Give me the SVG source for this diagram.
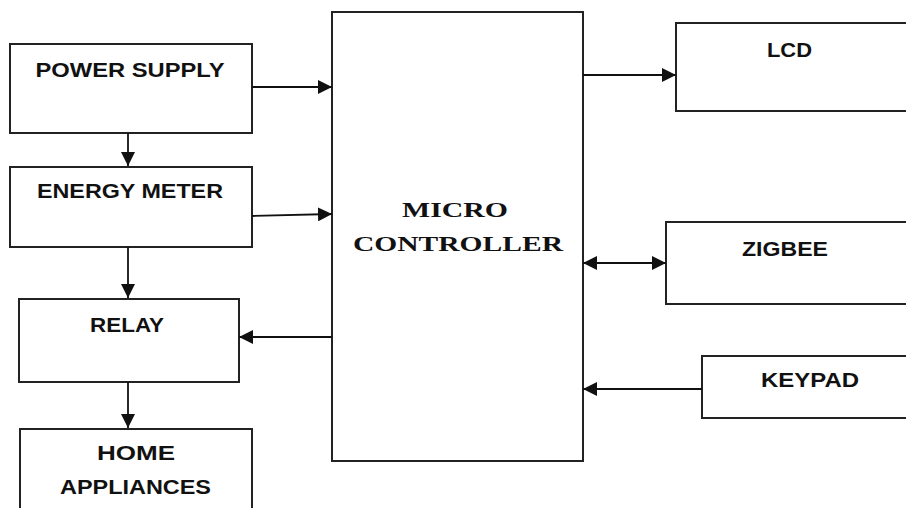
<svg xmlns="http://www.w3.org/2000/svg" width="906" height="508" viewBox="0 0 906 508">
<defs>
<style>
.box{fill:#fff;stroke:#222;stroke-width:2}
.lbl{font-family:"Liberation Sans",Arial,sans-serif;font-weight:bold;font-size:20px;fill:#111;text-anchor:middle}
.mc{font-family:"Liberation Serif","Times New Roman",serif;font-weight:bold;font-size:22px;fill:#111;text-anchor:middle}
.ln{stroke:#111;stroke-width:1.8;fill:none}
</style>
<marker id="ah" viewBox="0 0 14 14" refX="14" refY="7" markerWidth="14" markerHeight="14" markerUnits="userSpaceOnUse" orient="auto-start-reverse">
<path d="M0,0 L14,7 L0,14 Z" fill="#111"/>
</marker>
</defs>
<rect width="906" height="508" fill="#fff"/>
<g id="power-supply">
<rect class="box" x="10" y="44" width="242" height="89"/>
<text class="lbl" x="130" y="77" textLength="189" lengthAdjust="spacingAndGlyphs">POWER SUPPLY</text>
</g>
<g id="energy-meter">
<rect class="box" x="10" y="167" width="242" height="80"/>
<text class="lbl" x="130" y="198" textLength="186" lengthAdjust="spacingAndGlyphs">ENERGY METER</text>
</g>
<g id="relay">
<rect class="box" x="19" y="299" width="220" height="83"/>
<text class="lbl" x="127" y="332" textLength="74" lengthAdjust="spacingAndGlyphs">RELAY</text>
</g>
<g id="home-appliances">
<rect class="box" x="20" y="429" width="232" height="90"/>
<text class="lbl" x="136" y="460" textLength="78" lengthAdjust="spacingAndGlyphs">HOME</text>
<text class="lbl" x="135.5" y="494" textLength="151" lengthAdjust="spacingAndGlyphs">APPLIANCES</text>
</g>
<g id="micro-controller">
<rect class="box" x="332" y="12" width="251" height="449"/>
<text class="mc" x="455" y="217" textLength="106" lengthAdjust="spacingAndGlyphs">MICRO</text>
<text class="mc" x="458" y="251" textLength="210" lengthAdjust="spacingAndGlyphs">CONTROLLER</text>
</g>
<g id="lcd">
<rect class="box" x="676" y="23" width="240" height="88"/>
<text class="lbl" x="789.5" y="57" textLength="45" lengthAdjust="spacingAndGlyphs">LCD</text>
</g>
<g id="zigbee">
<rect class="box" x="666" y="222" width="250" height="82"/>
<text class="lbl" x="785" y="256" textLength="86" lengthAdjust="spacingAndGlyphs">ZIGBEE</text>
</g>
<g id="keypad">
<rect class="box" x="702" y="356" width="214" height="62"/>
<text class="lbl" x="810" y="387" textLength="98" lengthAdjust="spacingAndGlyphs">KEYPAD</text>
</g>
<g id="connectors">
<line class="ln" x1="252" y1="87" x2="332" y2="87" marker-end="url(#ah)"/>
<line class="ln" x1="252" y1="216" x2="332" y2="214" marker-end="url(#ah)"/>
<line class="ln" x1="128" y1="133" x2="128" y2="166" marker-end="url(#ah)"/>
<line class="ln" x1="128" y1="247" x2="128" y2="298" marker-end="url(#ah)"/>
<line class="ln" x1="128" y1="382" x2="128" y2="428" marker-end="url(#ah)"/>
<line class="ln" x1="332" y1="337" x2="239" y2="337" marker-end="url(#ah)"/>
<line class="ln" x1="583" y1="75" x2="676" y2="75" marker-end="url(#ah)"/>
<line class="ln" x1="583" y1="263" x2="666" y2="263" marker-start="url(#ah)" marker-end="url(#ah)"/>
<line class="ln" x1="702" y1="389" x2="583" y2="389" marker-end="url(#ah)"/>
</g>
</svg>
